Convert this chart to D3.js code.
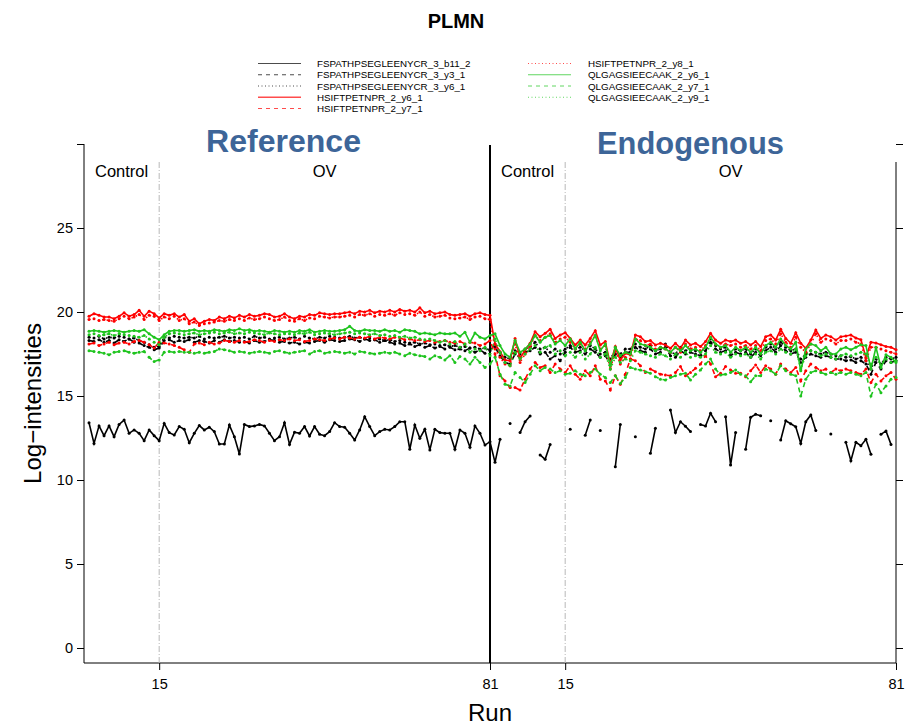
<!DOCTYPE html>
<html><head><meta charset="utf-8">
<script src="https://cdn.jsdelivr.net/npm/d3@7"></script>
<style>
body{margin:0;background:#fff}
svg{display:block}
text{font-family:"Liberation Sans",Arial,Helvetica,sans-serif}
</style>
</head><body>
<svg id="chart" width="911" height="728"></svg>
<script>
// ---------------- DATA ----------------
const chartTitle = "PLMN";
const xTickRuns = [15, 81, 96, 162];
const xTickLabels = ["15", "81", "15", "81"];
const yTickValues = [0, 5, 10, 15, 20, 25, 30];
const yTickLabels = ["0", "5", "10", "15", "20", "25", ""];
const groupBounds = [0, 15, 81, 96, 162];
const groupLabels = ["Control", "OV", "Control", "OV"];
const panelLabels = ["Reference", "Endogenous"];
const seriesNames = [
  "FSPATHPSEGLEENYCR_3_b11_2", "FSPATHPSEGLEENYCR_3_y3_1", "FSPATHPSEGLEENYCR_3_y6_1",
  "HSIFTPETNPR_2_y6_1", "HSIFTPETNPR_2_y7_1", "HSIFTPETNPR_2_y8_1",
  "QLGAGSIEECAAK_2_y6_1", "QLGAGSIEECAAK_2_y7_1", "QLGAGSIEECAAK_2_y9_1"
];

// runs 1..162 (1-81 reference, 82-162 endogenous)
const fsp_b11_2 = [
13.41,12.18,13.22,12.64,13.22,12.58,13.31,13.57,12.78,12.98,
12.78,12.34,12.98,12.64,12.34,13.37,12.82,12.68,13.18,13.02,
12.22,12.78,13.24,12.98,13.14,12.88,12.14,12.14,13.27,12.58,
11.55,13.31,13.18,13.22,13.31,13.22,12.78,12.34,12.58,13.41,
12.12,12.84,12.78,13.18,12.62,13.18,12.72,12.64,12.88,13.41,
13.18,13.14,12.78,12.38,12.98,13.77,13.18,12.64,12.88,13.02,
12.98,13.18,13.47,13.47,11.83,13.27,12.48,13.02,11.79,13.02,
12.82,12.78,12.78,11.83,12.98,12.78,11.95,13.22,12.78,12.08,12.28,
11.05,12.42,null,13.37,null,12.82,13.47,13.81,null,11.49,
11.23,12.12,null,null,null,13.02,null,null,12.66,13.57,
null,12.94,null,null,10.79,13.31,null,null,12.58,null,
null,11.59,13.08,null,null,14.17,12.82,13.47,13.2,12.88,
null,13.31,13.21,13.97,13.47,null,13.77,10.89,12.82,null,
11.83,13.73,13.91,13.83,null,13.53,null,12.38,13.53,13.35,
13.17,12.18,13.47,13.87,12.94,null,null,12.74,null,null,
12.24,11.15,12.24,12.04,12.42,11.53,null,12.72,12.92,12.12,null];

const fsp_y3_1 = [
18.3,18.25,18.35,18.2,18.3,18.15,18.35,18.25,18.4,18.2,
18.15,18.0,17.9,17.75,17.85,18.3,18.35,18.2,18.3,18.25,
18.35,18.2,18.3,18.25,18.15,18.3,18.2,18.35,18.25,18.3,
18.2,18.25,18.15,18.3,18.2,18.25,18.35,18.3,18.2,18.25,
18.15,18.2,18.1,18.2,18.15,18.25,18.3,18.2,18.35,18.3,
18.25,18.3,18.4,18.35,18.25,18.4,18.3,18.35,18.2,18.3,
18.2,18.1,18.15,18.0,18.1,17.95,18.05,17.9,18.0,17.85,
17.95,17.8,17.9,17.75,17.8,17.7,17.85,17.6,17.75,17.55,17.8,
17.9,17.4,17.0,16.9,17.5,17.3,17.6,17.7,17.9,17.5,
17.6,17.2,17.4,17.1,17.6,17.9,17.6,17.7,17.5,17.8,
17.6,17.3,17.4,16.9,17.5,17.3,17.6,17.6,17.9,17.7,
17.6,17.8,17.5,17.6,17.9,17.4,17.3,17.7,17.5,17.6,
17.5,17.4,17.7,18.2,17.8,17.6,17.7,17.4,17.6,17.5,
17.6,17.3,17.6,17.4,17.7,17.9,17.6,18.0,17.7,17.5,
17.6,17.0,17.3,17.5,17.4,17.3,17.4,17.3,17.2,17.2,
17.1,17.15,17.0,17.1,16.9,16.3,17.0,16.6,17.1,17.0,17.1];

const fsp_y6_1 = [
18.5,18.45,18.55,18.4,18.5,18.45,18.55,18.5,18.4,18.45,
18.3,18.2,18.05,17.9,17.95,18.5,18.45,18.55,18.5,18.45,
18.5,18.45,18.55,18.4,18.5,18.45,18.5,18.55,18.45,18.5,
18.45,18.5,18.4,18.55,18.45,18.5,18.4,18.45,18.5,18.4,
18.45,18.5,18.4,18.55,18.45,18.4,18.5,18.45,18.55,18.5,
18.45,18.5,18.55,18.45,18.5,18.4,18.45,18.35,18.4,18.3,
18.35,18.25,18.3,18.2,18.15,18.2,18.1,18.15,18.05,18.1,
18.0,18.05,17.95,18.0,17.9,17.95,17.85,17.9,17.8,17.85,17.7,
18.1,17.6,17.3,17.2,17.7,17.5,17.8,17.9,18.2,17.8,
17.9,17.6,17.8,17.5,17.8,18.0,17.8,17.9,17.7,18.0,
17.8,17.5,17.6,17.2,17.7,17.5,17.8,17.8,18.1,17.9,
17.8,18.0,17.7,17.8,18.1,17.6,17.5,17.9,17.7,17.8,
17.7,17.6,17.9,18.4,18.0,17.8,17.9,17.6,17.8,17.7,
17.8,17.5,17.8,17.6,17.9,18.1,17.8,18.2,17.9,17.7,
17.8,17.2,17.5,17.7,17.6,17.5,17.6,17.5,17.4,17.4,
17.3,17.35,17.2,17.3,17.1,16.6,17.2,16.9,17.3,17.2,17.3];

const hsi_y6_1 = [
19.75,19.9,19.8,19.7,19.7,19.6,19.75,19.95,19.75,19.85,
20.1,19.75,20.05,19.9,19.65,19.9,19.8,19.9,19.7,19.85,
19.45,19.6,19.3,19.45,19.55,19.5,19.7,19.6,19.75,19.65,
19.8,19.7,19.85,19.75,19.8,19.9,19.85,19.7,19.75,19.9,
19.7,19.6,19.75,19.7,19.85,19.8,19.95,19.9,19.85,19.9,
19.9,19.95,20.0,19.9,20.05,20.0,20.1,19.95,20.05,20.0,
20.1,20.0,20.15,20.05,20.1,20.0,20.25,19.95,20.05,19.9,
19.95,20.0,19.85,19.8,19.85,19.9,19.75,19.9,19.95,19.85,19.8,
18.1,17.64,17.14,17.1,18.43,17.24,17.74,18.14,18.83,18.53,
18.73,18.97,18.43,18.63,18.77,18.43,18.04,18.33,18.04,18.43,
18.89,18.04,18.24,16.9,17.94,17.14,17.54,17.44,18.63,18.53,
18.24,18.3,18.04,18.14,18.04,17.84,18.14,17.84,18.33,18.04,
18.14,17.94,18.24,18.73,18.33,18.14,18.33,18.24,18.33,18.14,
18.24,18.04,18.24,17.94,18.53,18.63,18.33,18.97,18.43,18.14,
18.77,18.14,17.84,18.33,18.93,18.43,18.63,18.53,18.33,18.53,
18.57,18.63,18.45,18.35,17.3,18.2,18.15,18.05,17.95,17.9,17.75];

const hsi_y7_1 = [
18.1,18.15,18.0,18.1,18.2,18.05,18.15,18.2,18.1,18.25,
18.3,18.2,18.05,17.85,18.2,18.15,18.1,18.0,17.9,17.75,
17.6,18.1,18.15,18.05,18.2,18.1,18.15,18.3,18.25,18.2,
18.3,18.2,18.25,18.35,18.3,18.2,18.3,18.25,18.35,18.3,
18.4,18.3,18.35,18.25,18.3,18.4,18.35,18.3,18.4,18.45,
18.4,18.5,18.45,18.4,18.5,18.45,18.55,18.4,18.5,18.45,
18.4,18.5,18.45,18.35,18.4,18.3,18.35,18.25,18.3,18.2,
18.25,18.3,18.2,18.15,18.25,18.1,18.2,18.15,18.0,18.1,18.3,
17.5,16.2,15.9,15.5,15.5,15.35,16.0,16.6,17.0,16.7,
16.8,16.4,16.9,16.6,16.4,16.8,16.3,16.0,16.5,16.2,
16.8,16.0,15.9,15.35,16.2,15.7,16.3,17.2,17.1,16.8,
16.4,16.6,16.45,16.3,16.25,16.2,16.4,16.75,16.2,16.4,
16.65,16.9,17.4,16.9,16.15,16.35,16.75,16.55,16.35,16.35,
16.15,16.5,16.85,16.4,16.8,16.6,16.3,16.9,16.6,16.4,
16.7,15.9,16.5,16.9,16.7,16.5,16.6,16.4,16.6,16.5,
16.6,16.5,16.4,16.3,16.6,15.8,16.3,15.9,16.2,16.4,16.0];

const hsi_y8_1 = [
19.55,19.6,19.5,19.55,19.5,19.45,19.6,19.75,19.6,19.7,
19.85,19.55,19.8,19.75,19.5,19.7,19.6,19.75,19.5,19.6,
19.3,19.4,19.2,19.3,19.35,19.4,19.5,19.45,19.55,19.5,
19.6,19.5,19.65,19.55,19.6,19.7,19.6,19.5,19.55,19.7,
19.5,19.45,19.6,19.5,19.65,19.6,19.75,19.7,19.65,19.7,
19.7,19.75,19.8,19.7,19.85,19.8,19.9,19.75,19.85,19.8,
19.9,19.8,19.95,19.85,19.9,19.8,20.0,19.75,19.85,19.7,
19.75,19.8,19.65,19.6,19.65,19.7,19.55,19.7,19.75,19.6,19.55,
17.8,17.3,16.9,16.8,18.1,17.0,17.5,17.9,18.6,18.3,
18.5,18.7,18.2,18.4,18.5,18.2,17.8,18.1,17.8,18.2,
18.6,17.8,18.0,16.6,17.7,16.9,17.3,17.2,18.4,18.3,
18.0,18.1,17.8,17.9,17.8,17.6,17.9,17.6,18.1,17.8,
17.9,17.7,18.0,18.5,18.1,17.9,18.1,18.0,18.1,17.9,
18.0,17.8,18.0,17.7,18.3,18.4,18.1,18.7,18.2,17.9,
18.5,17.9,17.6,18.1,18.7,18.2,18.4,18.3,18.1,18.3,
18.3,18.4,18.2,18.1,17.1,17.9,17.9,17.8,17.7,17.6,17.5];

const qlg_y6_1 = [
18.85,18.9,18.85,18.8,18.85,18.9,18.85,18.8,18.85,18.9,
18.85,18.95,18.7,18.5,18.35,18.65,18.85,18.9,18.9,18.85,
18.9,18.95,18.85,18.9,18.85,18.95,18.9,18.85,18.95,18.9,
19.0,18.9,18.95,18.85,18.9,18.85,18.8,18.9,18.85,18.8,
18.85,18.8,18.9,18.85,18.95,18.8,18.85,18.9,18.85,18.85,
18.9,18.95,19.15,18.9,18.85,18.95,18.9,18.9,18.85,18.95,
18.85,18.9,18.8,18.95,18.9,18.85,18.7,18.75,18.7,18.65,
18.75,18.7,18.7,18.75,18.55,18.8,18.2,18.75,18.5,18.4,18.6,
18.7,18.0,17.5,17.3,18.3,17.6,17.8,18.1,18.6,18.2,
18.5,18.6,18.1,18.3,18.0,18.4,17.8,18.2,17.7,18.1,
18.6,17.7,18.1,16.8,17.9,17.4,17.6,17.5,18.4,18.1,
18.0,17.9,17.7,17.9,17.8,17.6,17.9,17.7,18.0,17.7,
17.8,17.6,17.9,18.5,18.1,17.9,18.0,17.6,17.9,17.7,
17.9,17.6,17.9,17.5,18.0,18.2,17.9,18.4,18.0,17.8,
18.2,16.5,17.8,18.1,18.0,17.7,17.9,17.5,17.5,17.8,
17.9,17.75,17.9,18.05,18.0,16.6,17.9,16.7,17.45,17.3,17.0];

const qlg_y7_1 = [
17.7,17.65,17.6,17.55,17.45,17.6,17.65,17.7,17.6,17.55,
17.6,17.65,17.3,17.05,17.15,17.6,17.65,17.6,17.65,17.6,
17.6,17.55,17.6,17.55,17.6,17.65,17.8,17.75,17.7,17.6,
17.65,17.6,17.55,17.6,17.65,17.6,17.55,17.65,17.7,17.6,
17.55,17.6,17.65,17.7,17.5,17.65,17.7,17.55,17.6,17.65,
17.6,17.55,17.6,17.5,17.65,17.6,17.55,17.5,17.55,17.6,
17.55,17.6,17.5,17.4,17.55,17.45,17.4,17.35,17.2,17.4,
17.3,17.15,17.4,17.0,17.35,17.2,16.9,17.3,17.0,16.7,16.9,
17.3,16.3,15.7,15.6,16.4,16.1,15.8,16.3,16.8,16.5,
16.7,16.6,16.4,16.5,16.3,16.35,16.5,16.3,16.2,16.4,
16.6,16.3,16.1,15.8,16.2,15.75,16.1,16.7,16.6,16.55,
16.45,16.35,16.15,16.0,15.95,16.1,16.2,16.3,16.35,15.95,
16.3,16.55,16.9,17.2,16.6,16.25,16.3,16.4,16.55,16.3,
16.2,15.85,16.2,16.2,16.6,16.5,16.3,16.8,16.5,16.3,
16.2,15.0,16.0,16.4,16.5,16.4,16.3,16.4,16.3,16.4,
16.3,16.4,16.3,16.2,16.4,15.0,15.7,15.2,15.6,16.0,16.1];

const qlg_y9_1 = [
18.65,18.7,18.6,18.65,18.7,18.6,18.7,18.65,18.6,18.55,
18.5,18.6,18.4,18.2,18.05,18.5,18.7,18.75,18.7,18.65,
18.7,18.75,18.65,18.7,18.75,18.8,18.7,18.75,18.8,18.7,
18.75,18.7,18.8,18.75,18.7,18.65,18.75,18.7,18.65,18.7,
18.7,18.65,18.75,18.7,18.8,18.65,18.7,18.75,18.7,18.65,
18.7,18.75,18.8,18.7,18.75,18.7,18.65,18.7,18.6,18.65,
18.55,18.6,18.5,18.55,18.45,18.5,18.4,18.35,18.4,18.3,
18.2,18.3,18.1,18.25,17.9,18.1,17.6,17.8,17.7,17.9,17.4,
18.4,17.6,17.0,16.8,17.6,17.2,17.5,17.8,18.0,17.6,
17.9,18.0,17.5,17.7,17.4,17.6,17.3,17.6,17.2,17.5,
17.9,17.3,17.5,16.6,17.3,17.0,17.2,17.1,17.7,17.6,
17.5,17.4,17.3,17.5,17.4,17.2,17.5,17.3,17.6,17.3,
17.4,17.3,17.5,18.0,17.6,17.5,17.6,17.3,17.5,17.4,
17.5,17.3,17.5,17.2,17.6,17.7,17.5,17.8,17.6,17.5,
17.8,16.6,17.4,17.7,17.6,17.4,17.5,17.3,17.2,17.4,
17.5,17.4,17.5,17.6,17.5,16.9,17.3,16.8,17.2,17.0,17.1];

const seriesValues = [fsp_b11_2, fsp_y3_1, fsp_y6_1, hsi_y6_1, hsi_y7_1, hsi_y8_1, qlg_y6_1, qlg_y7_1, qlg_y9_1];

// ---------------- STYLE ----------------
const peptideColor = ["#000000", "#000000", "#000000", "#ff0000", "#ff0000", "#ff0000", "#1ec41e", "#1ec41e", "#1ec41e"];
const dashStyle = [null, "5,4", "1.5,3", null, "5,4", "1.5,3", null, "5,4", "1.5,3"];
const legendDash = [null, "4,4", "1,2.5", null, "4,4", "1,2.5", null, "4,4", "1,2.5"];

// ---------------- LAYOUT ----------------
const svg = d3.select("#chart");
const plotL = 84, plotR = 896, plotT = 144, plotB = 663;
const x = d3.scaleLinear().domain([0, 162]).range([plotL, plotR]);
const y = d3.scaleLinear().domain([0, 30]).range([648, 144]);

// title
svg.append("text").attr("x", 456).attr("y", 28).attr("text-anchor", "middle")
  .attr("font-size", 20).attr("font-weight", "bold").text(chartTitle);

// legend
const legendCols = [{lx: 258, tx: 317}, {lx: 528, tx: 588}];
seriesNames.forEach((name, i) => {
  const col = i < 5 ? 0 : 1;
  const row = i < 5 ? i : i - 5;
  const ly = 63.5 + row * 11.25;
  const c = legendCols[col];
  svg.append("line").attr("x1", c.lx).attr("x2", c.lx + 43).attr("y1", ly).attr("y2", ly)
    .attr("stroke", peptideColor[i]).attr("stroke-width", i === 3 ? 1.6 : 1)
    .attr("stroke-opacity", 0.7)
    .attr("stroke-dasharray", legendDash[i]);
  svg.append("text").attr("x", c.tx).attr("y", ly + 3.5).attr("font-size", 9.8).text(name);
});

// axes lines
svg.append("line").attr("x1", plotL).attr("x2", plotL).attr("y1", plotT).attr("y2", plotB)
  .attr("stroke", "#000").attr("stroke-width", 1);
svg.append("line").attr("x1", plotL).attr("x2", plotR).attr("y1", plotB).attr("y2", plotB)
  .attr("stroke", "#000").attr("stroke-width", 1);
svg.append("line").attr("x1", plotR).attr("x2", plotR).attr("y1", 162).attr("y2", plotB)
  .attr("stroke", "#000").attr("stroke-width", 1);

const yAxis = d3.axisLeft(y).tickValues(yTickValues).tickFormat((d, i) => yTickLabels[i])
  .tickSize(7).tickSizeOuter(0).tickPadding(4);
const gy = svg.append("g").attr("transform", `translate(${plotL},0)`).call(yAxis);
gy.select(".domain").remove();
gy.selectAll("text").attr("font-size", 14.5).attr("font-family", "Liberation Sans, Arial, sans-serif");

const yAxisR = d3.axisRight(y).tickValues(yTickValues).tickFormat("").tickSize(7).tickSizeOuter(0);
const gyr = svg.append("g").attr("transform", `translate(${plotR},0)`).call(yAxisR);
gyr.select(".domain").remove();

const xAxis = d3.axisBottom(x).tickValues(xTickRuns).tickFormat((d, i) => xTickLabels[i])
  .tickSize(7).tickSizeOuter(0).tickPadding(9);
const gx = svg.append("g").attr("transform", `translate(0,${plotB})`).call(xAxis);
gx.select(".domain").remove();
gx.selectAll("text").attr("font-size", 14.5).attr("font-family", "Liberation Sans, Arial, sans-serif");

// axis titles
svg.append("text").attr("x", (plotL + plotR) / 2).attr("y", 721).attr("text-anchor", "middle")
  .attr("font-size", 24).text("Run");
svg.append("text").attr("transform", `translate(41,${(plotT + plotB) / 2}) rotate(-90)`)
  .attr("text-anchor", "middle").attr("font-size", 24).text("Log\u2212intensities");

// group separators
[groupBounds[1], groupBounds[3]].forEach(r => {
  svg.append("line").attr("x1", x(r)).attr("x2", x(r)).attr("y1", 162).attr("y2", plotB)
    .attr("stroke", "#b8b8b8").attr("stroke-width", 1).attr("stroke-dasharray", "6,2,1,2");
});
svg.append("line").attr("x1", x(groupBounds[2])).attr("x2", x(groupBounds[2]))
  .attr("y1", 145).attr("y2", plotB).attr("stroke", "#000").attr("stroke-width", 2);

// group labels
groupLabels.forEach((g, i) => {
  svg.append("text").attr("x", x((groupBounds[i] + groupBounds[i + 1]) / 2)).attr("y", 177)
    .attr("text-anchor", "middle").attr("font-size", 16.5).text(g);
});

// series lines and points
const line = d3.line().defined(d => d != null).x((d, i) => x(i + 1)).y(d => y(d));
seriesValues.forEach((vals, s) => {
  svg.append("path").datum(vals).attr("d", line).attr("fill", "none")
    .attr("stroke", peptideColor[s]).attr("stroke-width", 1.6)
    .attr("stroke-dasharray", dashStyle[s]);
  svg.append("g").selectAll("circle")
    .data(vals.map((v, i) => ({v, i})).filter(d => d.v != null))
    .join("circle").attr("cx", d => x(d.i + 1)).attr("cy", d => y(d.v)).attr("r", 1.5)
    .attr("fill", peptideColor[s]);
});

// panel labels (overlay)
const panelSpec = [{x0: 206, w: 155, base: 152}, {x0: 597, w: 187, base: 154}];
panelLabels.forEach((p, i) => {
  const t = svg.append("text").attr("x", panelSpec[i].x0).attr("y", panelSpec[i].base)
    .attr("font-family", "Lato, 'Open Sans', sans-serif").attr("font-weight", "bold")
    .attr("font-size", 34).attr("fill", "#3d6598").text(p);
  const len = t.node().getComputedTextLength();
  t.attr("font-size", 34 * panelSpec[i].w / len);
});
</script>
</body></html>
